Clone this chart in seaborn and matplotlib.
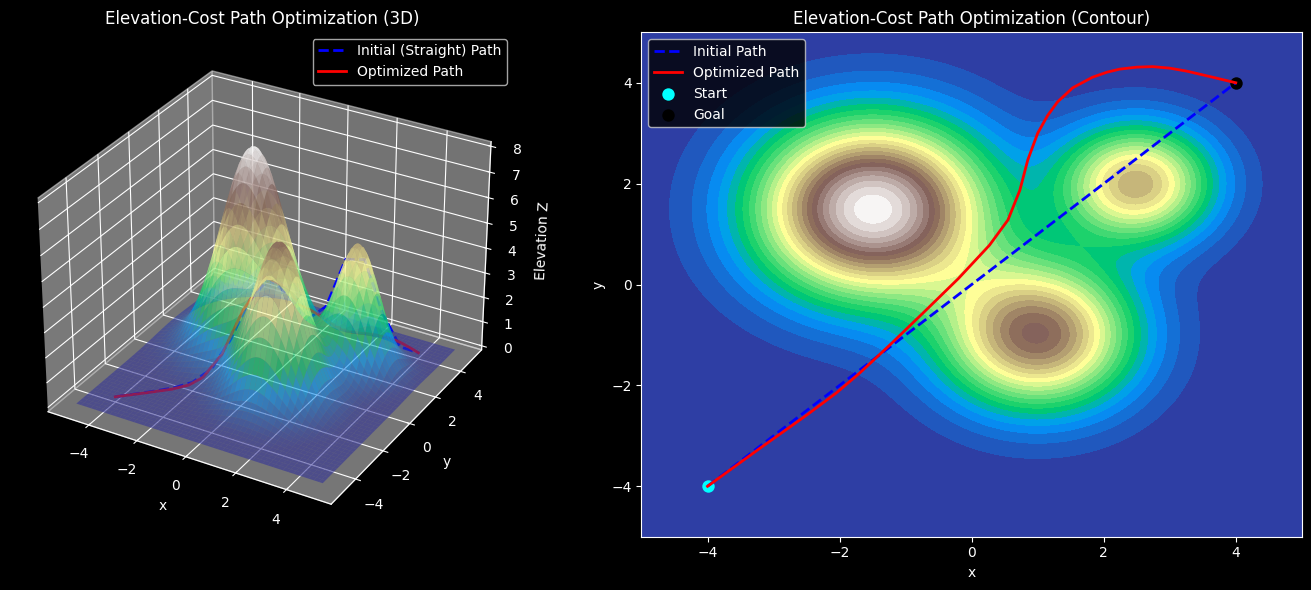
import numpy as np
import matplotlib
matplotlib.use("Agg")
import matplotlib.pyplot as plt
import seaborn as sns

# hills of the terrain (centre, peak height, spread)
hill_x = [-1.5, 1.0, 2.5]
hill_y = [1.5, -1.0, 2.0]
hill_height = [8.0, 6.0, 5.0]
hill_spread = [1.2, 1.0, 0.8]

# straight path, sampled so it can ride on the surface in 3D
initial_x = [-4, -3.5, -3, -2.5, -2, -1.5, -1, -0.5, 0, 0.5, 1, 1.5, 2, 2.5, 3, 3.5, 4]
initial_y = [-4, -3.5, -3, -2.5, -2, -1.5, -1, -0.5, 0, 0.5, 1, 1.5, 2, 2.5, 3, 3.5, 4]

opt_x = [-4, -3.21, -2.5, -2.05, -1.7, -1.24, -0.74, -0.2, 0.27, 0.55, 0.73, 0.85,
         1.0, 1.15, 1.3, 1.53, 1.83, 2.05, 2.24, 2.5, 2.74, 3.0, 3.26, 3.65, 4]
opt_y = [-4, -3.25, -2.59, -2.15, -1.76, -1.2, -0.57, 0.12, 0.78, 1.28, 1.87, 2.47,
         3.0, 3.35, 3.62, 3.9, 4.11, 4.21, 4.27, 4.31, 4.32, 4.29, 4.23, 4.11, 4]

start_x, start_y = [-4], [-4]
goal_x, goal_y = [4], [4]


def terrain(x, y):
    z = 0
    for a, b, h, s in zip(hill_x, hill_y, hill_height, hill_spread):
        z = z + h * np.exp(-((x - a) ** 2 + (y - b) ** 2) / (2 * s ** 2))
    return z


plt.style.use("dark_background")

xs = np.linspace(-5, 5, 200)
X, Y = np.meshgrid(xs, xs)
Z = terrain(X, Y)

fig = plt.figure(figsize=(13.11, 5.9), dpi=100)

# 3D panel
ax1 = fig.add_axes([-0.0092, 0.0915, 0.418, 0.8545], projection="3d")
ax1.plot_surface(X, Y, Z, cmap="terrain", alpha=0.6)
ix, iy = np.array(initial_x), np.array(initial_y)
ox, oy = np.array(opt_x), np.array(opt_y)
ax1.plot(ix, iy, terrain(ix, iy) + 0.05, "b--", lw=2, label="Initial (Straight) Path")
ax1.plot(ox, oy, terrain(ox, oy) + 0.05, "r-", lw=2, label="Optimized Path")
ax1.set_title("Elevation-Cost Path Optimization (3D)")
ax1.set_xlabel("x")
ax1.set_ylabel("y")
ax1.set_zlabel("Elevation Z")
ax1.legend()

# contour panel
ax2 = fig.add_axes([0.4893, 0.0903, 0.5037, 0.8549])
ax2.contourf(X, Y, Z, levels=30, cmap="terrain")
sns.lineplot(x=initial_x, y=initial_y, sort=False, color="b", linestyle="--", lw=2,
             label="Initial Path", ax=ax2, errorbar=None)
sns.lineplot(x=opt_x, y=opt_y, sort=False, color="r", lw=2,
             label="Optimized Path", ax=ax2, errorbar=None)
sns.scatterplot(x=start_x, y=start_y, color="cyan", s=80, linewidth=0, label="Start", ax=ax2, zorder=1.5)
sns.scatterplot(x=goal_x, y=goal_y, color="black", s=80, linewidth=0, label="Goal", ax=ax2, zorder=1.5)
ax2.set_title("Elevation-Cost Path Optimization (Contour)")
ax2.set_xlabel("x")
ax2.set_ylabel("y")
ax2.set_xlim(-5, 5)
ax2.set_ylim(-5, 5)
ax2.legend(loc="upper left")

fig.savefig("out.png", dpi=100)
